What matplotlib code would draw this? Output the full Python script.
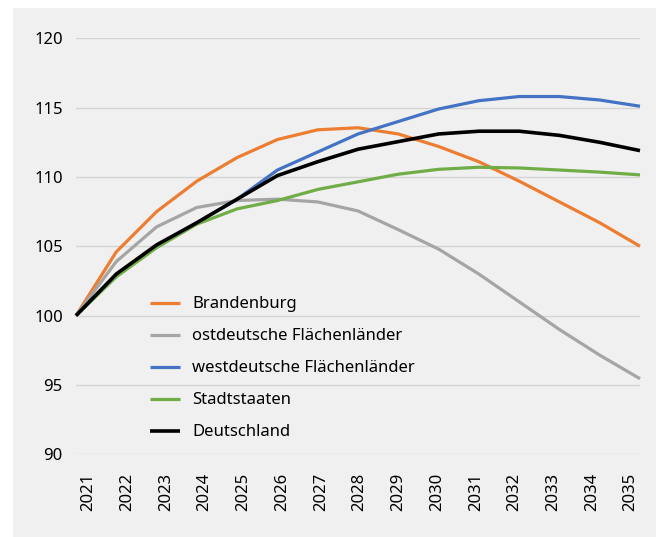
import matplotlib.pyplot as plt
from matplotlib.patches import Rectangle

plt.rcParams['font.family'] = ['Noto Sans', 'DejaVu Sans']

years = list(range(2021, 2036))

brandenburg = [100, 104.6, 107.5, 109.7, 111.4, 112.7, 113.4, 113.55, 113.1, 112.2,
               111.1, 109.7, 108.2, 106.7, 105.0]
ost = [100, 103.9, 106.4, 107.8, 108.3, 108.4, 108.2, 107.55, 106.2, 104.8,
       103.0, 101.0, 99.0, 97.15, 95.45]
west = [100, 102.9, 105.0, 106.7, 108.4, 110.5, 111.8, 113.1, 114.0, 114.9,
        115.5, 115.8, 115.8, 115.55, 115.1]
stadt = [100, 102.8, 104.9, 106.6, 107.7, 108.3, 109.1, 109.65, 110.2, 110.55,
         110.7, 110.65, 110.5, 110.35, 110.15]
deutschland = [100, 103.0, 105.1, 106.7, 108.4, 110.1, 111.1, 112.0, 112.55, 113.1,
               113.3, 113.3, 113.0, 112.5, 111.9]

series = [
    ('Brandenburg', brandenburg, '#ED7D31', 2.3),
    ('ostdeutsche Flächenländer', ost, '#A5A5A5', 2.3),
    ('westdeutsche Flächenländer', west, '#4472C4', 2.3),
    ('Stadtstaaten', stadt, '#70AD47', 2.3),
    ('Deutschland', deutschland, '#000000', 2.6),
]

W, H = 659, 537
fig = plt.figure(figsize=(W / 100, H / 100), dpi=100)
fig.patch.set_facecolor('white')
fig.patches.append(Rectangle((13 / W, 0), (656 - 13) / W, 1 - 8 / H,
                             transform=fig.transFigure, facecolor='#F0F0F0',
                             edgecolor='none', zorder=-10))

ax = fig.add_axes([76 / W, 1 - 454.3 / H, (640 - 76) / W, (454.3 - 38.3) / H])
ax.set_facecolor('none')

for name, vals, col, lw in series:
    ax.plot(years, vals, color=col, lw=lw, label=name, clip_on=False,
            solid_capstyle='butt', solid_joinstyle='round')

ax.set_xlim(2021, 2035)
ax.set_ylim(90, 120)
ax.set_yticks([90, 95, 100, 105, 110, 115, 120])
ax.grid(axis='y', color='#D4D4D4', lw=1)
ax.set_axisbelow(True)
for s in ax.spines.values():
    s.set_visible(False)
ax.tick_params(axis='y', length=0, pad=9.5, labelsize=12)
ax.tick_params(axis='x', length=0, labelbottom=False)

# year labels sit on a slightly different scale than the line points
ax2 = ax.twiny()
ax2.set_xlim(2020.682, 2035.239)
ax2.set_xticks(years)
ax2.set_xticklabels([str(y) for y in years], rotation=90)
ax2.xaxis.set_ticks_position('bottom')
ax2.xaxis.set_label_position('bottom')
ax2.tick_params(axis='x', length=0, pad=13.5, labelsize=12)
for s in ax2.spines.values():
    s.set_visible(False)

ax.legend(loc='upper left', bbox_to_anchor=(150 / W, 1 - 296.5 / H),
          bbox_transform=fig.transFigure, frameon=False, fontsize=12,
          handlelength=1.8, handletextpad=0.75, labelspacing=0.96,
          borderpad=0, borderaxespad=0)

fig.savefig('out.png', dpi=100)
